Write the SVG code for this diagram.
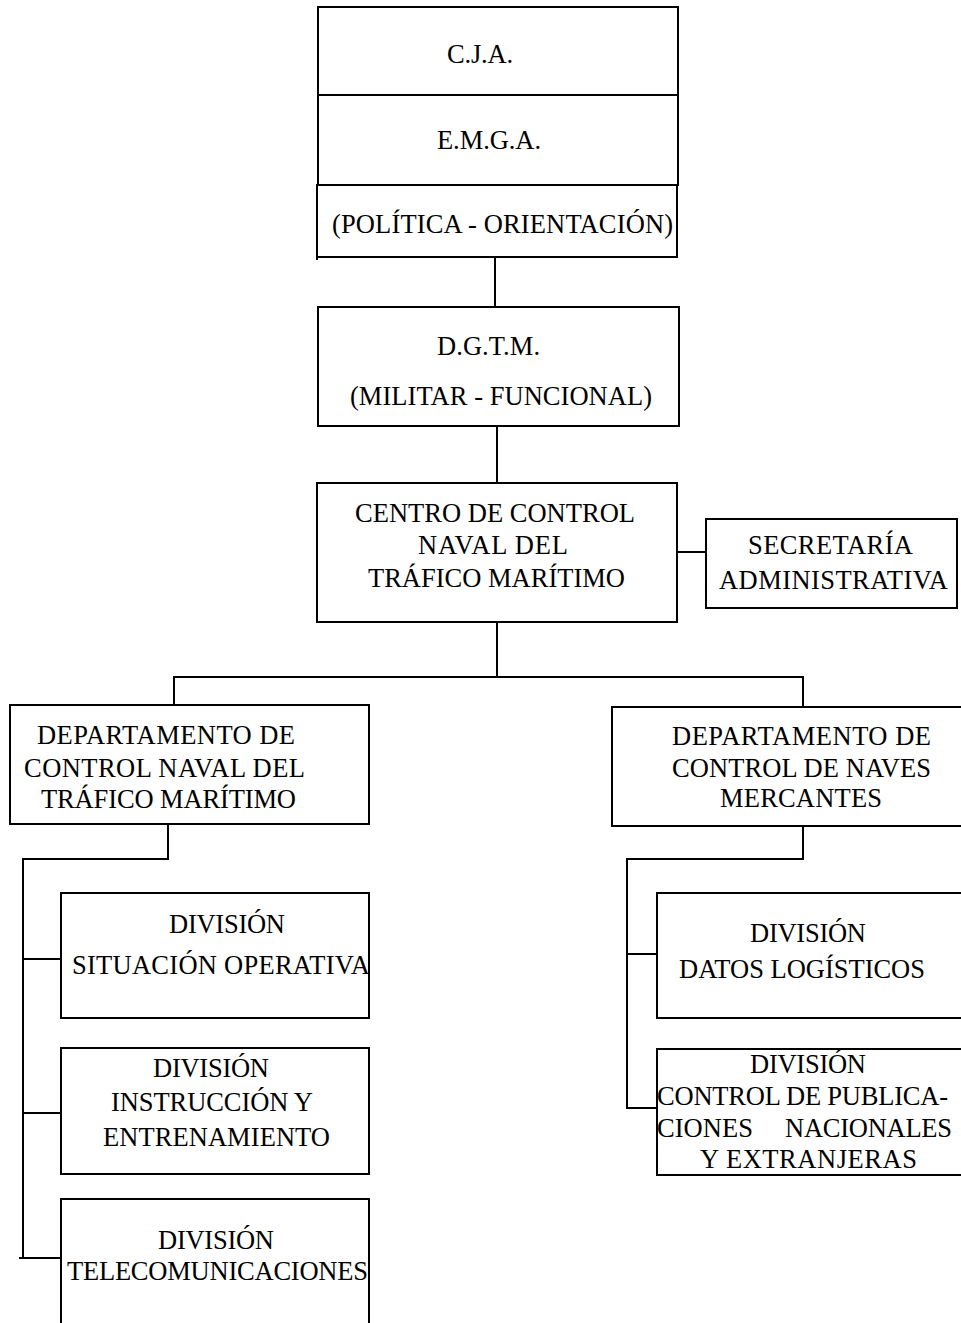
<svg xmlns="http://www.w3.org/2000/svg" width="961" height="1323" viewBox="0 0 961 1323">
<style>
.b{fill:#fff;stroke:#000;stroke-width:2}
.c{fill:none;stroke:#000;stroke-width:2}
text{font-family:"Liberation Serif","Times New Roman",serif;font-size:26.5px;fill:#000}
</style>
<rect width="961" height="1323" fill="#fff"/>
<g id="connectors">
<line class="c" x1="495" y1="257" x2="495" y2="307"/>
<line class="c" x1="497" y1="426" x2="497" y2="483"/>
<line class="c" x1="677" y1="552" x2="706" y2="552"/>
<polyline class="c" points="497,622 497,677"/>
<polyline class="c" points="174,705 174,677 803,677 803,707"/>
<polyline class="c" points="168,824 168,859 23,859 23,1258"/>
<line class="c" x1="23" y1="959" x2="61" y2="959"/>
<line class="c" x1="23" y1="1113" x2="61" y2="1113"/>
<line class="c" x1="19" y1="1258" x2="61" y2="1258"/>
<polyline class="c" points="803,826 803,859 627,859 627,1109"/>
<line class="c" x1="627" y1="954" x2="657" y2="954"/>
<line class="c" x1="627" y1="1108" x2="657" y2="1108"/>
</g>
<g id="cja">
<rect class="b" x="318" y="7" width="360" height="88"/>
<text x="447" y="63" textLength="66">C.J.A.</text>
</g>
<g id="emga">
<rect class="b" x="318" y="95" width="360" height="90"/>
<text x="437" y="149" textLength="104">E.M.G.A.</text>
</g>
<g id="politica">
<rect class="b" x="317" y="185" width="360" height="72"/>
<line class="c" x1="317" y1="257" x2="317" y2="260"/>
<text x="332" y="233" textLength="341">(POLÍTICA - ORIENTACIÓN)</text>
</g>
<g id="dgtm">
<rect class="b" x="318" y="307" width="361" height="119"/>
<text x="437" y="355" textLength="103">D.G.T.M.</text>
<text x="350" y="405" textLength="302">(MILITAR - FUNCIONAL)</text>
</g>
<g id="ccn">
<rect class="b" x="317" y="483" width="360" height="139"/>
<text x="355" y="522" textLength="280">CENTRO DE CONTROL</text>
<text x="418" y="554" textLength="150">NAVAL DEL</text>
<text x="368" y="587" textLength="257">TRÁFICO MARÍTIMO</text>
</g>
<g id="secretaria">
<rect class="b" x="706" y="519" width="251" height="89"/>
<text x="748" y="554" textLength="165">SECRETARÍA</text>
<text x="719" y="589" textLength="229">ADMINISTRATIVA</text>
</g>
<g id="dep-naval">
<rect class="b" x="10" y="705" width="359" height="119"/>
<text x="37" y="744" textLength="258">DEPARTAMENTO DE</text>
<text x="24" y="777" textLength="281">CONTROL NAVAL DEL</text>
<text x="41" y="808" textLength="255">TRÁFICO MARÍTIMO</text>
</g>
<g id="dep-mercantes">
<rect class="b" x="612" y="707" width="360" height="119"/>
<text x="672" y="745" textLength="259">DEPARTAMENTO DE</text>
<text x="672" y="777" textLength="259">CONTROL DE NAVES</text>
<text x="720" y="807" textLength="162">MERCANTES</text>
</g>
<g id="div-situacion">
<rect class="b" x="61" y="893" width="308" height="125"/>
<text x="169" y="933" textLength="116">DIVISIÓN</text>
<text x="72" y="974" textLength="298">SITUACIÓN OPERATIVA</text>
</g>
<g id="div-instruccion">
<rect class="b" x="61" y="1048" width="308" height="126"/>
<text x="153" y="1077" textLength="116">DIVISIÓN</text>
<text x="111" y="1111" textLength="202">INSTRUCCIÓN Y</text>
<text x="103" y="1146" textLength="227">ENTRENAMIENTO</text>
</g>
<g id="div-telecom">
<path class="c" d="M61,1330 V1199 H369 V1330"/>
<text x="158" y="1249" textLength="116">DIVISIÓN</text>
<text x="67" y="1280" textLength="301">TELECOMUNICACIONES</text>
</g>
<g id="div-datos">
<rect class="b" x="657" y="893" width="315" height="125"/>
<text x="750" y="942" textLength="116">DIVISIÓN</text>
<text x="679" y="978" textLength="246">DATOS LOGÍSTICOS</text>
</g>
<g id="div-publicaciones">
<rect class="b" x="657" y="1049" width="315" height="126"/>
<text x="750" y="1073" textLength="116">DIVISIÓN</text>
<text x="657" y="1105" textLength="291">CONTROL DE PUBLICA-</text>
<text x="657" y="1137" textLength="96">CIONES</text>
<text x="785" y="1137" textLength="167">NACIONALES</text>
<text x="700" y="1168" textLength="217">Y EXTRANJERAS</text>
</g>
</svg>
